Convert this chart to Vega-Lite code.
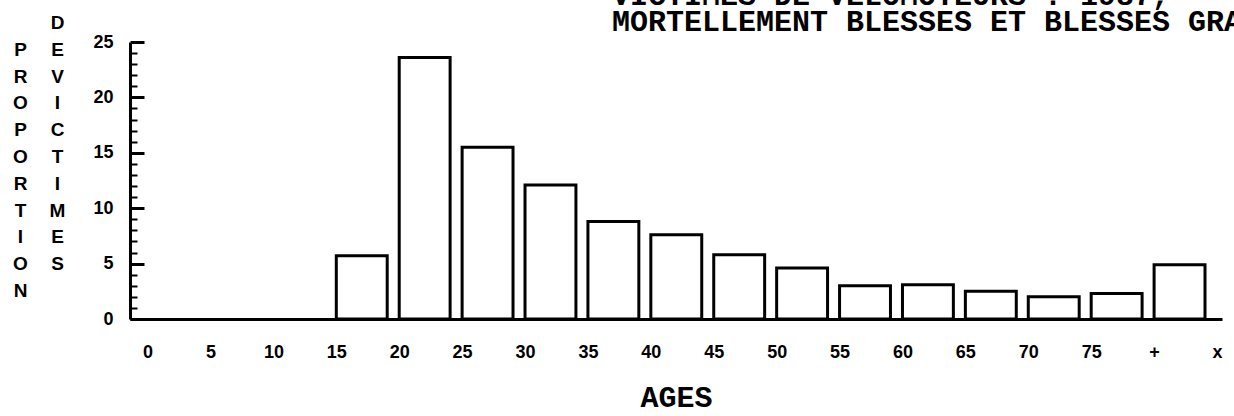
{
  "$schema": "https://vega.github.io/schema/vega-lite/v6.json",
  "autosize": {"type": "none"},
  "width": 1092,
  "height": 277,
  "padding": {"left": 130, "top": 42, "right": 12, "bottom": 97},
  "background": "white",
  "config": {"view": {"stroke": null}, "font": "Liberation Sans"},
  "title": {
    "text": ["VICTIMES DE VELOMOTEURS : 1987,", "MORTELLEMENT BLESSES ET BLESSES GRAVES"],
    "anchor": "start",
    "align": "left",
    "frame": "group",
    "dx": 482,
    "dy": 31,
    "offset": 8,
    "font": "Liberation Mono",
    "fontSize": 30,
    "fontWeight": "bold",
    "lineHeight": 26,
    "color": "black"
  },
  "data": {
    "values": [
      {"start": 15, "end": 20, "pct": 5.7},
      {"start": 20, "end": 25, "pct": 23.6},
      {"start": 25, "end": 30, "pct": 15.5},
      {"start": 30, "end": 35, "pct": 12.1},
      {"start": 35, "end": 40, "pct": 8.8},
      {"start": 40, "end": 45, "pct": 7.6},
      {"start": 45, "end": 50, "pct": 5.8},
      {"start": 50, "end": 55, "pct": 4.6},
      {"start": 55, "end": 60, "pct": 3.0},
      {"start": 60, "end": 65, "pct": 3.1},
      {"start": 65, "end": 70, "pct": 2.5},
      {"start": 70, "end": 75, "pct": 2.0},
      {"start": 75, "end": 80, "pct": 2.3},
      {"start": 80, "end": 85, "pct": 4.9}
    ]
  },
  "layer": [
    {
      "mark": {"type": "bar", "orient": "vertical", "fill": "white", "stroke": "black", "strokeWidth": 3, "x2Offset": -12},
      "encoding": {
        "x": {
          "field": "start",
          "type": "quantitative",
          "scale": {"domain": [-1, 85], "nice": false, "zero": false},
          "axis": {
            "values": [0, 5, 10, 15, 20, 25, 30, 35, 40, 45, 50, 55, 60, 65, 70, 75, 80, 85],
            "labelExpr": "datum.value == 80 ? '+' : datum.value == 85 ? 'x' : datum.label",
            "ticks": false,
            "grid": false,
            "domainColor": "black",
            "domainWidth": 3,
            "labelFont": "Liberation Sans",
            "labelFontWeight": "bold",
            "labelFontSize": 18,
            "labelColor": "black",
            "labelPadding": 24,
            "labelFlush": false,
            "labelOverlap": false,
            "title": "AGES",
            "titleFont": "Liberation Mono",
            "titleFontWeight": "bold",
            "titleFontSize": 30,
            "titleColor": "black",
            "titleBaseline": "alphabetic",
            "titleY": 87
          }
        },
        "x2": {"field": "end"},
        "y": {
          "field": "pct",
          "type": "quantitative",
          "scale": {"domain": [0, 25], "nice": false},
          "axis": {
            "values": [0, 5, 10, 15, 20, 25],
            "grid": false,
            "tickSize": -14,
            "tickWidth": 3,
            "tickColor": "black",
            "domainColor": "black",
            "domainWidth": 3,
            "labelFont": "Liberation Sans",
            "labelFontWeight": "bold",
            "labelFontSize": 18,
            "labelColor": "black",
            "labelPadding": 31,
            "title": ["D", "E", " ", "V", "I", "C", "T", "I", "M", "E", "S"],
            "titleAngle": 0,
            "titleAlign": "center",
            "titleBaseline": "alphabetic",
            "titleX": -73,
            "titleY": -13.5,
            "titleLineHeight": 26.8,
            "titleFont": "Liberation Sans",
            "titleFontWeight": "bold",
            "titleFontSize": 19,
            "titleColor": "black"
          }
        },
        "y2": {"datum": 0}
      }
    },
    {
      "mark": {"type": "point", "opacity": 0},
      "encoding": {
        "x": {"field": "start", "type": "quantitative"},
        "y": {
          "field": "pct",
          "type": "quantitative",
          "axis": {
            "orient": "left",
            "values": [1, 2, 3, 4, 6, 7, 8, 9, 11, 12, 13, 14, 16, 17, 18, 19, 21, 22, 23, 24],
            "grid": false,
            "labels": false,
            "domain": false,
            "tickSize": -7,
            "tickWidth": 2,
            "tickColor": "black",
            "title": ["P", "R", "O", "P", "O", "R", "T", "I", "O", "N"],
            "titleAngle": 0,
            "titleAlign": "center",
            "titleBaseline": "alphabetic",
            "titleX": -110,
            "titleY": 13.3,
            "titleLineHeight": 26.8,
            "titleFont": "Liberation Sans",
            "titleFontWeight": "bold",
            "titleFontSize": 19,
            "titleColor": "black"
          }
        }
      }
    }
  ],
  "resolve": {"axis": {"y": "independent"}}
}
